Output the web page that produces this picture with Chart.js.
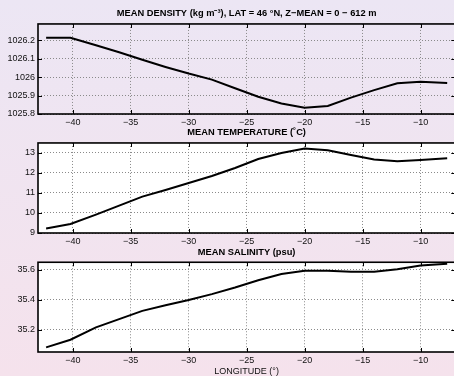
<!DOCTYPE html>
<html><head><meta charset="utf-8">
<script src="https://cdn.jsdelivr.net/npm/chart.js@4/dist/chart.umd.min.js"></script>
<style>
html,body{margin:0;padding:0;width:454px;height:376px;overflow:hidden;background:linear-gradient(to bottom,#ece6f4,#f5e2ec);}
canvas{position:absolute;left:0;}
</style></head><body>
<canvas id="c1" width="457" height="127" style="top:0px;width:457px;height:127px"></canvas>
<canvas id="c2" width="457" height="121" style="top:125px;width:457px;height:121px"></canvas>
<canvas id="c3" width="457" height="132" style="top:244px;width:457px;height:132px"></canvas>
<script>
// Longitude of each sample (degrees)
const longitude = [-42.3, -40.2, -38, -36, -34, -32, -30, -28, -26, -24, -22, -20, -18, -16, -14, -12, -10, -7.7];
// Mean density (kg m^-3)
const density = [1026.215, 1026.215, 1026.174, 1026.136, 1026.095, 1026.056, 1026.02, 1025.987, 1025.94, 1025.894, 1025.857, 1025.834, 1025.844, 1025.889, 1025.93, 1025.967, 1025.976, 1025.969];
// Mean temperature (deg C)
const temperature = [9.23, 9.45, 9.92, 10.37, 10.82, 11.15, 11.5, 11.85, 12.25, 12.7, 13.0, 13.22, 13.13, 12.9, 12.67, 12.58, 12.65, 12.73];
// Mean salinity (psu)
const salinity = [35.081, 35.132, 35.215, 35.27, 35.325, 35.363, 35.398, 35.437, 35.481, 35.53, 35.571, 35.593, 35.593, 35.587, 35.587, 35.604, 35.629, 35.64];

// Tick values
const lonTicks = [-40, -35, -30, -25, -20, -15, -10];
const densityTicks = [1025.8, 1025.9, 1026, 1026.1, 1026.2];
const temperatureTicks = [9, 10, 11, 12, 13];
const salinityTicks = [35.2, 35.4, 35.6];

const FONT = "'Liberation Sans', Arial, Helvetica, sans-serif";
const fmt = v => { const s = String(Math.round(v * 100) / 100); return s.replace('-', '\u2212'); };

const framePlugin = {
  id: 'frame',
  beforeDraw(chart, args, opts) {
    if (!opts.bg) return;
    const a = chart.chartArea, ctx = chart.ctx;
    ctx.save(); ctx.fillStyle = opts.bg;
    ctx.fillRect(a.left, a.top, a.right - a.left, a.bottom - a.top);
    ctx.restore();
  },
  afterDatasetsDraw(chart) {
    const a = chart.chartArea, ctx = chart.ctx;
    const xs = chart.scales.x, ys = chart.scales.y;
    ctx.save();
    ctx.strokeStyle = '#000'; ctx.lineWidth = 1;
    ctx.beginPath();
    xs.ticks.forEach(t => {
      const px = Math.round(xs.getPixelForValue(t.value)) + 0.5;
      ctx.moveTo(px, a.bottom); ctx.lineTo(px, a.bottom - 4);
      ctx.moveTo(px, a.top); ctx.lineTo(px, a.top + 4);
    });
    ys.ticks.forEach(t => {
      const py = Math.round(ys.getPixelForValue(t.value)) + 0.5;
      ctx.moveTo(a.left, py); ctx.lineTo(a.left + 4, py);
      ctx.moveTo(a.right, py); ctx.lineTo(a.right - 4, py);
    });
    ctx.stroke();
    ctx.lineWidth = 1.6;
    ctx.strokeRect(a.left, a.top, a.right - a.left, a.bottom - a.top);
    ctx.restore();
  }
};

function makeChart(id, cfg) {
  const xScale = {
    type: 'linear', min: -43, max: -7,
    afterBuildTicks: s => { s.ticks = lonTicks.map(v => ({ value: v })); },
    afterFit: s => { s.height = cfg.xHeight; },
    grid: { color: '#8a8a8a', lineWidth: 1, drawTicks: false },
    border: { display: false, dash: [1, 2] },
    ticks: { padding: 4, color: '#111', font: { family: FONT, size: 9, lineHeight: 1 }, callback: v => fmt(v), maxRotation: 0, autoSkip: false }
  };
  if (cfg.xTitle) {
    xScale.title = { display: true, text: cfg.xTitle, color: '#111', font: { family: FONT, size: 9, lineHeight: 1 }, padding: { top: 1, bottom: 0 } };
  }
  return new Chart(document.getElementById(id), {
    type: 'line',
    data: {
      datasets: [{
        data: longitude.map((x, i) => ({ x, y: cfg.values[i] })),
        borderColor: '#000', borderWidth: 2, pointRadius: 0, tension: 0, fill: false
      }]
    },
    options: {
      responsive: false, animation: false, devicePixelRatio: 1,
      layout: { padding: { left: 0, right: 1.7, top: 0, bottom: 0 } },
      plugins: {
        legend: { display: false }, tooltip: { enabled: false },
        title: { display: true, text: cfg.title, fullSize: false, color: '#000',
          font: { family: FONT, size: 9.3, weight: 'bold', lineHeight: 1.2 }, padding: cfg.titlePad },
        frame: { bg: cfg.bg }
      },
      scales: {
        x: xScale,
        y: {
          type: 'linear', min: cfg.yMin, max: cfg.yMax,
          afterBuildTicks: s => { s.ticks = cfg.yTicks.map(v => ({ value: v })); },
          afterFit: s => { s.width = 38; },
          grid: { color: '#8a8a8a', lineWidth: 1, drawTicks: false },
          border: { display: false, dash: [1, 2] },
          ticks: { padding: 3, color: '#111', font: { family: FONT, size: 9, lineHeight: 1 }, callback: v => fmt(v) }
        }
      }
    },
    plugins: [framePlugin]
  });
}

makeChart('c1', { title: 'MEAN DENSITY (kg m\u207B\u00B3), LAT = 46 \u00B0N, Z\u2212MEAN = 0 \u2212 612 m', titlePad: { top: 7.4, bottom: 5.4 },
  values: density, yMin: 1025.8, yMax: 1026.29, yTicks: densityTicks, bg: null, xHeight: 13 });
makeChart('c2', { title: 'MEAN TEMPERATURE (\u02DAC)', titlePad: { top: 1.7, bottom: 5.1 },
  values: temperature, yMin: 9, yMax: 13.5, yTicks: temperatureTicks, bg: '#ffffff', xHeight: 13 });
makeChart('c3', { title: 'MEAN SALINITY (psu)', titlePad: { top: 2.7, bottom: 4.4 },
  values: salinity, yMin: 35.05, yMax: 35.65, yTicks: salinityTicks, bg: '#ffffff', xTitle: 'LONGITUDE (\u00B0)', xHeight: 24 });
</script>
</body></html>
